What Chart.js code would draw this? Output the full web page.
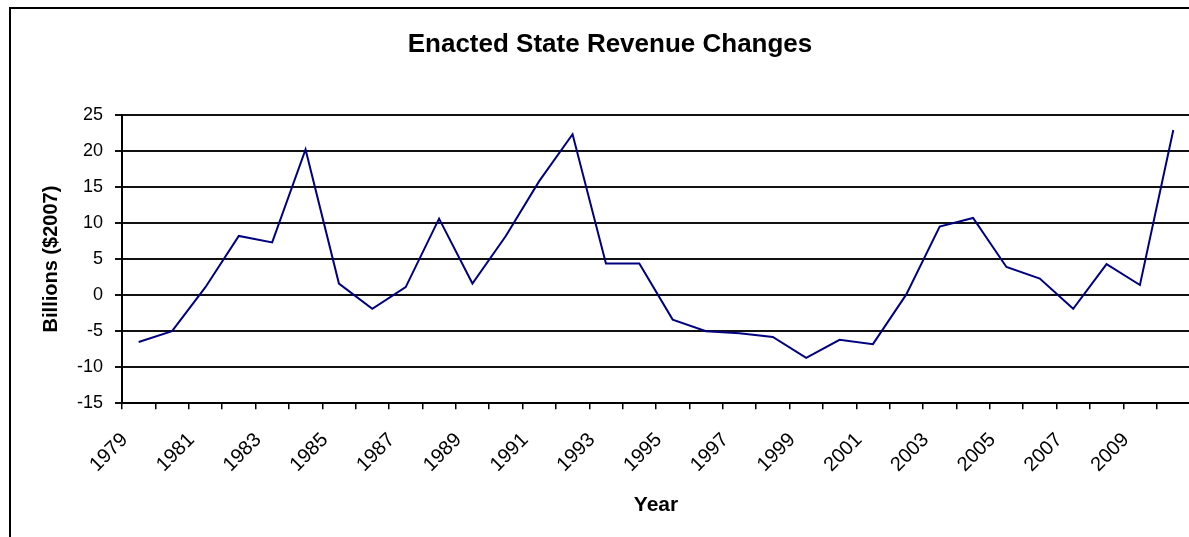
<!DOCTYPE html>
<html>
<head>
<meta charset="utf-8">
<script src="https://cdn.jsdelivr.net/npm/chart.js@4.4.1/dist/chart.umd.min.js"></script>
<style>
  html, body { margin: 0; padding: 0; background: #fff; overflow: hidden; }
  #wrap { position: absolute; left: 0; top: 0; width: 1220px; height: 545px; }
</style>
</head>
<body>
<div id="wrap"><canvas id="revChart"></canvas></div>
<script>
// Enacted state revenue changes, billions of 2007 dollars
const years = ["1979", "1980", "1981", "1982", "1983", "1984", "1985", "1986", "1987", "1988",
  "1989", "1990", "1991", "1992", "1993", "1994", "1995", "1996", "1997", "1998",
  "1999", "2000", "2001", "2002", "2003", "2004", "2005", "2006", "2007", "2008",
  "2009", "2010"];
const revenueChanges = [-6.5, -5.0, 1.1, 8.2, 7.3, 20.2, 1.6, -1.9, 1.1, 10.6,
  1.6, 8.2, 15.8, 22.3, 4.4, 4.4, -3.4, -5.0, -5.3, -5.8,
  -8.7, -6.2, -6.8, 0.1, 9.5, 10.7, 3.9, 2.3, -1.9, 4.3,
  1.4, 22.9];
const yTicks = [-15, -10, -5, 0, 5, 10, 15, 20, 25];

Chart.defaults.font.family = "'Liberation Sans', Arial, sans-serif";
Chart.defaults.color = "#000";

// white background + outer frame like the Excel chart
const frame = {
  id: "frame",
  beforeDraw(chart) {
    const c = chart.ctx;
    c.save();
    c.fillStyle = "#fff";
    c.fillRect(0, 0, chart.width, chart.height);
    c.strokeStyle = "#000";
    c.lineWidth = 2;
    c.strokeRect(10, 8, 1400, 700);
    c.restore();
  }
};

const ctx = document.getElementById("revChart").getContext("2d");
new Chart(ctx, {
  type: "line",
  data: {
    labels: years,
    datasets: [{
      label: "Enacted State Revenue Changes",
      data: revenueChanges,
      borderColor: "#000080",
      borderWidth: 2,
      pointRadius: 0,
      fill: false,
      tension: 0
    }]
  },
  options: {
    responsive: true,
    maintainAspectRatio: false,
    animation: false,
    layout: { padding: { top: 0, left: 30, right: 30, bottom: 0 } },
    plugins: {
      legend: { display: false },
      tooltip: { enabled: false },
      title: {
        display: true,
        text: "Enacted State Revenue Changes",
        font: { size: 26, weight: "bold" },
        color: "#000",
        padding: { top: 29, bottom: 54.6 }
      }
    },
    scales: {
      x: {
        offset: true,
        grid: { offset: true, drawOnChartArea: false, drawTicks: true, tickLength: 6, color: "#000", lineWidth: 1.5 },
        border: { display: true, color: "#000", width: 2 },
        ticks: {
          autoSkip: false,
          maxRotation: 45,
          minRotation: 45,
          padding: 19,
          labelOffset: -14,
          font: { size: 20 },
          callback: function (val, i) { return i % 2 === 0 ? years[i] : ""; }
        },
        title: { display: true, text: "Year", font: { size: 21, weight: "bold" }, padding: { top: 0, bottom: 27 } },
        afterFit(scale) { scale.height = 141.7; }
      },
      y: {
        min: -15,
        max: 25,
        afterBuildTicks(scale) { scale.ticks = yTicks.map(v => ({ value: v })); },
        grid: { color: "#111", lineWidth: 2, tickLength: 7 },
        border: { display: true, color: "#000", width: 2 },
        ticks: { padding: 12, font: { size: 18 } },
        title: { display: true, text: "Billions ($2007)", font: { size: 20, weight: "bold" }, padding: { top: 9, bottom: 0 } },
        afterFit(scale) { scale.width = 92; }
      }
    }
  },
  plugins: [frame]
});
</script>
</body>
</html>
